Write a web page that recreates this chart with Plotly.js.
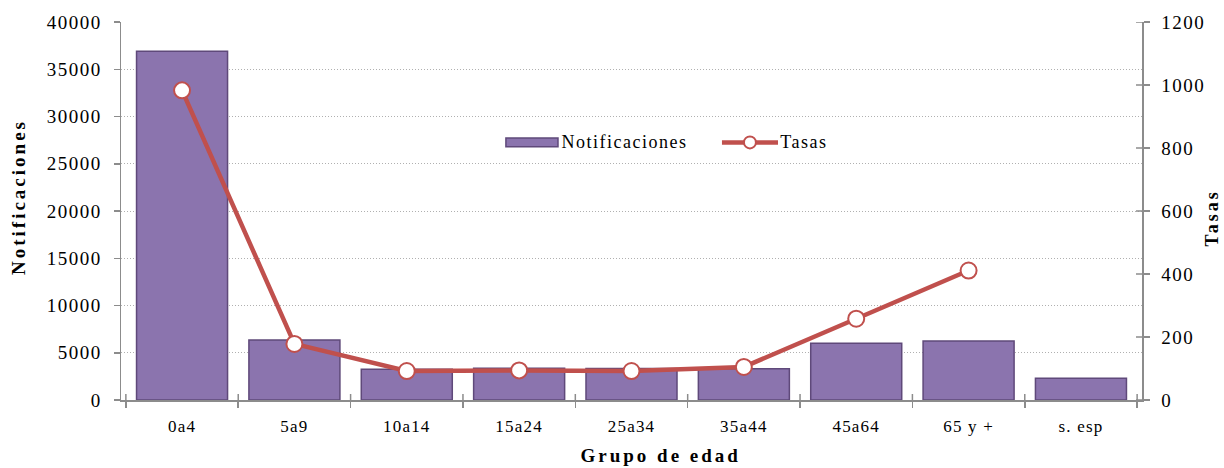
<!DOCTYPE html>
<html><head><meta charset="utf-8">
<script src="https://cdn.plot.ly/plotly-3.0.1.min.js"></script>
<style>
body{margin:0;background:#fff}
#c{width:1224px;height:468px}
#c .ytick text, #c .y2tick text{letter-spacing:1.5px}
#c .xtick text{letter-spacing:1.2px}
#c .annotation-text{letter-spacing:1.5px}
#c .annotation[data-index="0"] .annotation-text,
#c .annotation[data-index="1"] .annotation-text,
#c .annotation[data-index="2"] .annotation-text{letter-spacing:3px}
</style>
</head><body><div id="c"></div>
<script>
const categories = ["0a4","5a9","10a14","15a24","25a34","35a44","45a64","65 y +","s. esp"];
const notificaciones = [36900, 6350, 3250, 3350, 3330, 3300, 6000, 6250, 2300];
const tasas = [983, 178, 92, 94, 92, 105, 258, 411, null];
const leftTicks = [0,5000,10000,15000,20000,25000,30000,35000,40000];
const rightTicks = [0,200,400,600,800,1000,1200];
const xTitle = "Grupo de edad", yTitle = "Notificaciones", y2Title = "Tasas";

const font = "Liberation Serif, Times New Roman, serif";
const barColor = "#8B74AE", barLine = "#5F497A", lineColor = "#C0504D", axisColor = "#8c8c8c";

const traces = [
  {type:"bar", name:"Notificaciones", x:categories, y:notificaciones,
   marker:{color:barColor, line:{color:barLine, width:1.5}}, yaxis:"y"},
  {type:"scatter", mode:"lines+markers", name:"Tasas", x:categories, y:tasas,
   line:{color:lineColor, width:4.5}, marker:{size:16, color:"#fff", line:{color:lineColor, width:2}},
   yaxis:"y2", connectgaps:false}
];

// decorative shapes: inner halves of crossing ticks + custom legend
const shapes = [];
rightTicks.forEach(v => shapes.push({type:"line", xref:"paper", yref:"y2", xsizemode:"pixel", xanchor:1, x0:-6, x1:0, y0:v, y1:v, line:{color:axisColor, width:1.5}}));
for (let i = 0; i <= categories.length; i++) {
  shapes.push({type:"line", xref:"x", yref:"paper", ysizemode:"pixel", yanchor:0, x0:i-0.5, x1:i-0.5, y0:0, y1:6, line:{color:axisColor, width:1.5}});
}
// legend
shapes.push({type:"rect", xref:"paper", yref:"paper", x0:0.377, x1:0.428, y0:0.670, y1:0.693, fillcolor:barColor, line:{color:barLine, width:1.5}});
shapes.push({type:"line", xref:"paper", yref:"paper", x0:0.5886, x1:0.6435, y0:0.6815, y1:0.6815, line:{color:lineColor, width:4.5}});
shapes.push({type:"circle", xref:"paper", yref:"paper", xsizemode:"pixel", ysizemode:"pixel", xanchor:0.616, yanchor:0.6815, x0:-6, x1:6, y0:-6, y1:6, fillcolor:"#fff", line:{color:lineColor, width:2}});

const annotations = [
  {xref:"paper", yref:"paper", x:0.529, y:-0.147, xanchor:"center", yanchor:"middle", text:"<b>"+xTitle+"</b>", showarrow:false, font:{size:19}},
  {xref:"paper", yref:"paper", x:-0.1009, y:0.537, xanchor:"center", yanchor:"middle", textangle:-90, text:"<b>"+yTitle+"</b>", showarrow:false, font:{size:19}},
  {xref:"paper", yref:"paper", x:1.0686, y:0.4815, xanchor:"center", yanchor:"middle", textangle:-90, text:"<b>"+y2Title+"</b>", showarrow:false, font:{size:18}},
  {xref:"paper", yref:"paper", x:0.440, y:0.6815, xanchor:"left", yanchor:"middle", text:"Notificaciones", showarrow:false, font:{size:18}},
  {xref:"paper", yref:"paper", x:0.647, y:0.6815, xanchor:"left", yanchor:"middle", text:"Tasas", showarrow:false, font:{size:18}}
];

const layout = {
  width:1224, height:468,
  margin:{l:121, r:82, t:22, b:68},
  paper_bgcolor:"#fff", plot_bgcolor:"#fff",
  font:{family:font, size:18, color:"#000"},
  bargap:0.19,
  showlegend:false,
  shapes:shapes, annotations:annotations,
  xaxis:{showline:true, linecolor:axisColor, linewidth:1.5, ticks:"outside", ticklen:6, tickcolor:axisColor, tickwidth:1.5,
         tickson:"boundaries", tickfont:{size:17}, zeroline:false, automargin:false, ticklabelstandoff:10},
  yaxis:{range:[0,40000], tickvals:leftTicks, tickformat:"d", ticks:"outside", ticklen:6, tickcolor:axisColor, tickwidth:1.5,
         showline:true, linecolor:axisColor, linewidth:1.5, showgrid:true, gridcolor:"#b0b0b0", griddash:"1px,2px", gridwidth:1,
         zeroline:false, tickfont:{size:19}, automargin:false, ticklabelstandoff:8},
  yaxis2:{range:[0,1200], tickvals:rightTicks, tickformat:"d", overlaying:"y", side:"right", ticks:"outside", ticklen:6, tickcolor:axisColor, tickwidth:1.5,
          showline:true, linecolor:axisColor, linewidth:1.5, showgrid:false, zeroline:false, tickfont:{size:19}, automargin:false, ticklabelstandoff:8}
};
Plotly.newPlot("c", traces, layout, {displayModeBar:false, staticPlot:true});
</script></body></html>
